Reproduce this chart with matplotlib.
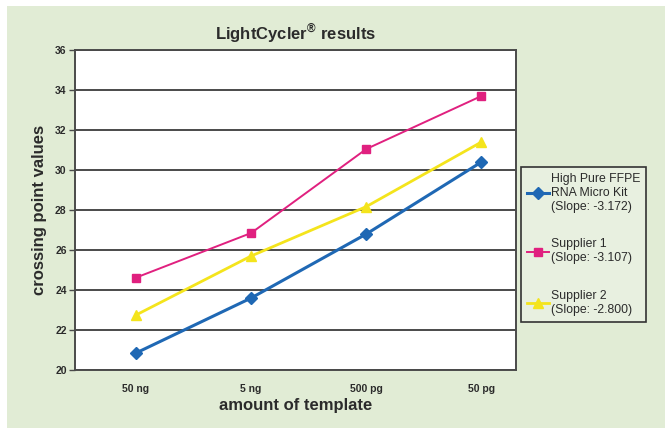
import matplotlib.pyplot as plt

# data
templates = ['50 ng', '5 ng', '500 pg', '50 pg']
high_pure = [20.85, 23.6, 26.8, 30.4]
supplier1 = [24.62, 26.85, 31.05, 33.7]
supplier2 = [22.75, 25.7, 28.17, 31.4]
labels = ['High Pure FFPE\nRNA Micro Kit\n(Slope: -3.172)',
          'Supplier 1\n(Slope: -3.107)',
          'Supplier 2\n(Slope: -2.800)']
yticks = [20, 22, 24, 26, 28, 30, 32, 34, 36]

bg = '#e1ecd5'
grid_col = '#4a4a4a'
txt_col = '#2b2b2b'
fam = ['Liberation Sans', 'DejaVu Sans']

fig = plt.figure(figsize=(6.65, 4.28), dpi=100)
fig.patch.set_facecolor('white')
# green panel with a thin white strip top/left
fig.patches.append(plt.Rectangle((7 / 665, 0), 1, 1 - 6 / 428, transform=fig.transFigure,
                                 facecolor=bg, edgecolor='none', zorder=-1))

ax = fig.add_axes([75 / 665, 58 / 428, 441 / 665, 320 / 428])
ax.set_facecolor('white')

x = list(range(len(templates)))
l1, = ax.plot(x, high_pure, color='#1f68b4', lw=2.2, marker='D', ms=6, zorder=4)
l2, = ax.plot(x, supplier1, color='#e0207f', lw=1.4, marker='s', ms=6, zorder=4)
l3, = ax.plot(x, supplier2, color='#f4e41c', lw=2.0, marker='^', ms=7, zorder=4)

ax.set_xlim(-0.53, 3.3)
ax.set_ylim(20, 36)
ax.set_yticks(yticks)
ax.set_yticklabels([str(v) for v in yticks], family=fam, fontsize=7.5,
                   fontweight='bold', color=txt_col)
ax.set_xticks(x)
ax.set_xticklabels(templates, family=fam, fontsize=7.5, fontweight='bold', color=txt_col)
ax.tick_params(axis='x', length=0, pad=10)
ax.tick_params(axis='y', length=4, width=1, color=grid_col, pad=2)
ax.yaxis.grid(True, color=grid_col, lw=1.4)
ax.set_axisbelow(True)
for s in ax.spines.values():
    s.set_color(grid_col)
    s.set_linewidth(1.4)

ax.set_title('LightCycler$^{\\mathregular{®}}$ results', family=fam, fontsize=12,
             fontweight='bold', color=txt_col, pad=8)
ax.set_xlabel('amount of template', family=fam, fontsize=12,
              fontweight='bold', color=txt_col, labelpad=3)
ax.set_ylabel('crossing point values', family=fam, fontsize=12,
              fontweight='bold', color=txt_col, labelpad=6)

leg = fig.legend([l1, l2, l3], labels, loc='upper left',
                 bbox_to_anchor=(521 / 665, 1 - 167 / 428),
                 prop={'family': fam, 'size': 8.8}, labelcolor=txt_col,
                 frameon=True, fancybox=False, edgecolor='#333333',
                 facecolor='#e8f0e0', framealpha=1, handlelength=1.8,
                 handletextpad=0.15, labelspacing=2.1, borderpad=0.5,
                 borderaxespad=0)
leg.get_frame().set_linewidth(1.2)

fig.savefig('out.png', dpi=100, facecolor=fig.get_facecolor())
